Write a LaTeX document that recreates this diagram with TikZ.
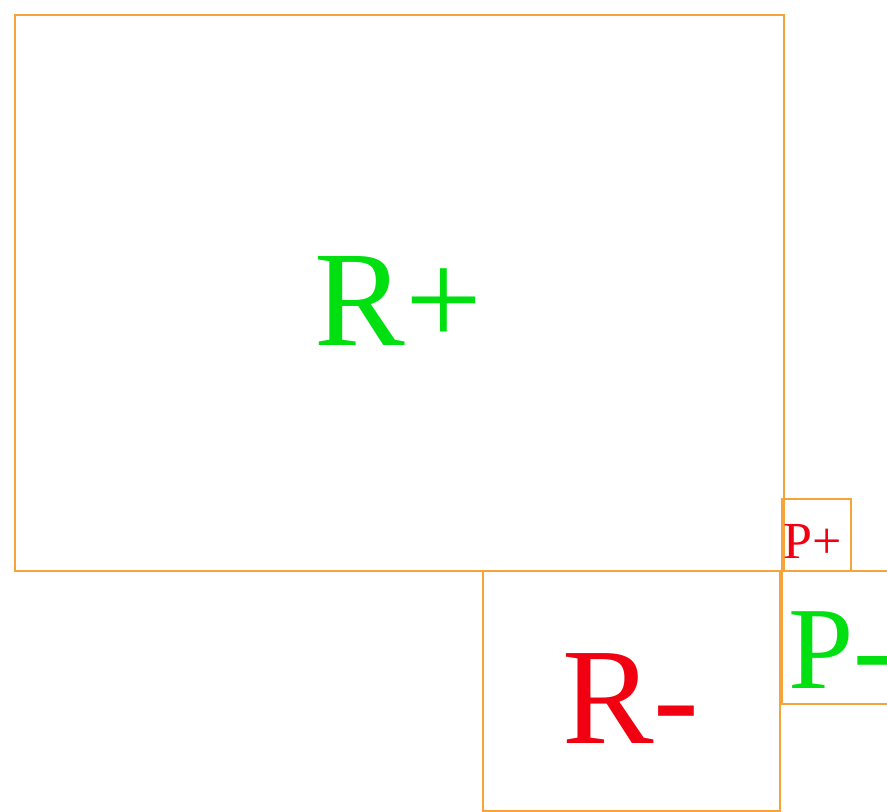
\documentclass[tikz,border=0pt]{standalone}
\usepackage{fontspec}
\setmainfont{Liberation Serif}
\definecolor{boxorange}{HTML}{F5A33A}
\definecolor{txtgreen}{HTML}{00E010}
\definecolor{txtred}{HTML}{F00010}
\begin{document}
\begin{tikzpicture}[x=0.75pt,y=-0.75pt,
  box/.style={draw=boxorange, line width=1.7pt, anchor=north west, inner sep=0pt},
  lbl/.style={inner sep=0pt}]
\useasboundingbox (0,0) rectangle (887,812);
\clip (0,0) rectangle (887,812);
\node[box, minimum width=576.75pt, minimum height=417pt] (rplus) at (14,14) {};
\node[box, minimum width=51.75pt, minimum height=54pt] (pplus) at (781,498) {};
\node[box, minimum width=222.75pt, minimum height=180pt] (rminus) at (482,570) {};
\node[box, minimum width=90pt, minimum height=99.75pt] (pminus) at (781,570) {};
\node[lbl, anchor=base, text=txtgreen, font=\fontsize{102pt}{102pt}\selectfont] (trp) at (398,345) {R+};
\node[lbl, anchor=base, text=txtred, font=\fontsize{103pt}{103pt}\selectfont] (trm) at (631,743) {R-};
\node[lbl, anchor=base west, text=txtgreen, font=\fontsize{88pt}{88pt}\selectfont] (tpm) at (788,688) {P-};
\node[lbl, anchor=base west, text=txtred, font=\fontsize{39pt}{39pt}\selectfont] (tpp) at (783,558) {P+};
\end{tikzpicture}
\end{document}
